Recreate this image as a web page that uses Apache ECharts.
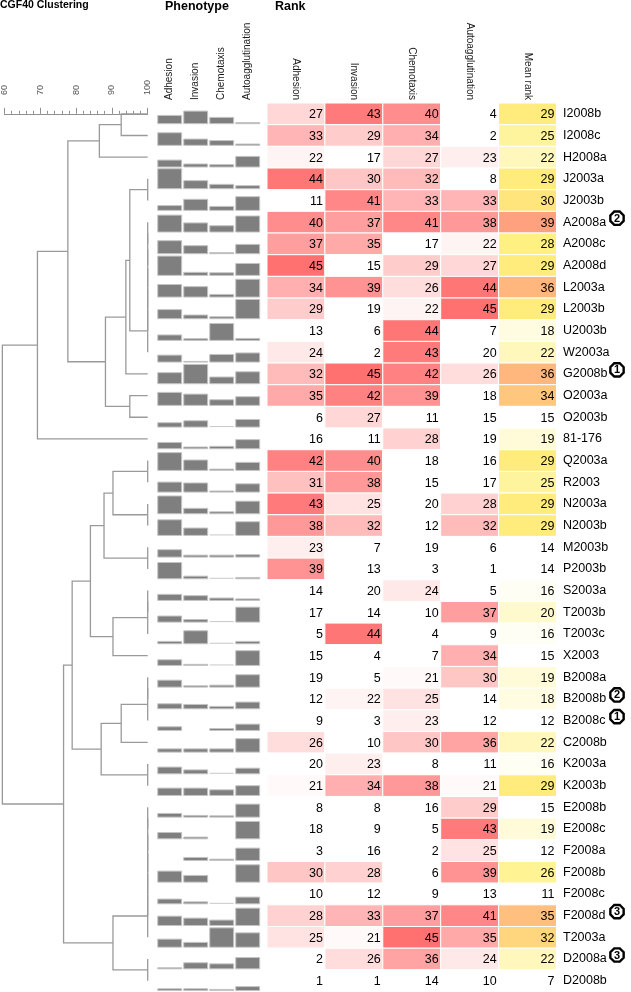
<!DOCTYPE html>
<html><head><meta charset="utf-8">
<script src="https://cdn.jsdelivr.net/npm/echarts/dist/echarts.min.js"></script>
<style>html,body{margin:0;padding:0;background:#fff}#c{width:631px;height:992px}</style>
</head><body><div id="c"></div>
<script>
const strains = ['I2008b','I2008c','H2008a','J2003a','J2003b','A2008a','A2008c','A2008d','L2003a','L2003b','U2003b','W2003a','G2008b','O2003a','O2003b','81-176','Q2003a','R2003','N2003a','N2003b','M2003b','P2003b','S2003a','T2003b','T2003c','X2003','B2008a','B2008b','B2008c','C2008b','K2003a','K2003b','E2008b','E2008c','F2008a','F2008b','F2008c','F2008d','T2003a','D2008a','D2008b'];
const phenoNames = ['Adhesion','Invasion','Chemotaxis','Autoagglutination'];
const rankNames = ['Adhesion','Invasion','Chemotaxis','Autoagglutination','Mean rank'];
const simTicks = [60, 70, 80, 90, 100];

// Phenotype bar heights (% of row height)
const adhesionPheno = [38,58,32,92,22,78,60,89,58,42,25,32,51,60,20,29,82,46,82,72,34,75,28,28,11,26,32,23,17,15,31,34,17,29,0,51,22,43,37,5,8];
const invasionPheno = [58,29,14,37,51,42,37,14,48,17,8,3,89,52,29,8,48,42,25,34,9,12,22,12,60,5,6,20,0,15,18,34,8,8,14,31,9,34,22,28,8];
const chemotaxisPheno = [29,22,11,20,18,29,5,12,12,9,78,35,31,26,1,11,6,5,9,1,9,1,11,1,1,1,9,11,9,15,1,26,6,0,6,0,1,25,89,23,5];
const autoaggPheno = [5,6,49,14,63,74,43,55,82,89,9,42,55,40,35,42,37,38,58,63,11,6,7,69,11,68,57,31,29,62,26,45,60,80,57,80,31,80,66,52,18];

// Ranks
const adhesionRank = [27,33,22,44,11,40,37,45,34,29,13,24,32,35,6,16,42,31,43,38,23,39,14,17,5,15,19,12,9,26,20,21,8,18,3,30,10,28,25,2,1];
const invasionRank = [43,29,17,30,41,37,35,15,39,19,6,2,45,42,27,11,40,38,25,32,7,13,20,14,44,4,5,22,3,10,23,34,8,9,16,28,12,33,21,26,1];
const chemotaxisRank = [40,34,27,32,33,41,17,29,26,22,44,43,42,39,11,28,18,15,20,12,19,3,24,10,4,7,21,25,23,30,8,38,16,5,2,6,9,37,45,36,14];
const autoaggRank = [4,2,23,8,33,38,22,27,44,45,7,20,26,18,15,19,16,17,28,32,6,1,5,37,9,34,30,14,12,36,11,21,29,43,25,39,13,41,35,24,10];
const meanRank = [29,25,22,29,30,39,28,29,36,29,18,22,36,34,15,19,29,25,29,29,14,14,16,20,16,15,19,18,12,22,16,29,15,19,12,26,11,35,32,22,7];

// CGF40 clustering linkage: [nodeA, nodeB, similarity %]; leaves 0..40, merges numbered from 41
const linkage = [
  [0,1,92.6],[41,2,86.5],[3,4,100],[5,6,100],[44,7,100],[45,8,100],[46,9,100],[47,10,100],[48,11,100],
  [43,49,95.0],[50,12,93.9],[13,14,95.0],[51,52,88.2],[42,53,77.7],[54,15,69.2],
  [16,17,100],[18,19,100],[56,57,90.3],[20,21,100],[58,59,87.8],[22,23,100],[61,24,100],[62,25,90.3],
  [60,63,84.0],[26,27,100],[65,28,100],[66,29,92.6],[30,31,100],[67,68,87.0],[64,69,78.9],
  [32,33,100],[71,34,100],[72,35,100],[73,36,100],[74,37,100],[75,38,100],[39,40,100],[76,77,90.3],
  [70,78,76.5],[55,79,59.4]
];
// Highlight badges: [row, number]
const badgeRows = [5,12,27,28,37,39];
const badgeNums = [2,1,2,1,3,3];

const FONT = '"Liberation Sans", Arial, Helvetica, sans-serif';
const N = strains.length;
const nodeY = [], nodeH = [];
for (let i = 0; i < N; i++) { nodeY[i] = i; nodeH[i] = 100; }
const dendroData = [];
linkage.forEach((m, k) => {
  const a = m[0], b = m[1], h = m[2];
  const id = N + k;
  nodeY[id] = (nodeY[a] + nodeY[b]) / 2;
  nodeH[id] = h;
  dendroData.push([h, nodeY[a], nodeY[b], nodeH[a], nodeH[b]]);
});

const phenoArrays = [adhesionPheno, invasionPheno, chemotaxisPheno, autoaggPheno];
const phenoData = [];
phenoArrays.forEach((arr, c) => arr.forEach((v, r) => phenoData.push([c, r, v])));
const rankArrays = [adhesionRank, invasionRank, chemotaxisRank, autoaggRank];
const rankData = [];
rankArrays.forEach((arr, c) => arr.forEach((v, r) => rankData.push([c, r, v])));
const meanData = meanRank.map((v, r) => [4, r, v]);
const badgeData = badgeRows.map((r, i) => [4, r, badgeNums[i]]);

const TOP = 103, H = 888.5;
const GRAY = '#8f8f8f';

function rankItem(params, api) {
  const col = api.value(0), row = api.value(1), v = api.value(2);
  const c = api.coord([col, row]);
  const s = api.size([1, 1]);
  const x = c[0] - s[0] / 2, y = c[1] - s[1] / 2;
  return { type: 'group', children: [
    { type: 'rect', shape: { x: x, y: y, width: s[0], height: s[1] },
      style: { fill: api.visual('color'), stroke: '#ffffff', lineWidth: 1 } },
    { type: 'text', style: { text: String(v), x: x + s[0] - 2, y: c[1] + 1, align: 'right', verticalAlign: 'middle',
      fontSize: 12.5, fontFamily: FONT, fill: '#000' } }
  ]};
}

const option = {
  animation: false,
  backgroundColor: '#fff',
  title: [
    { text: 'CGF40 Clustering', left: 0, top: 0, padding: 0, textStyle: { fontSize: 10.5, fontWeight: 'bold', fontFamily: FONT, color: '#000' } },
    { text: 'Phenotype', left: 165, top: 0, padding: 0, textStyle: { fontSize: 12.5, fontWeight: 'bold', fontFamily: FONT, color: '#000' } },
    { text: 'Rank', left: 275, top: 0, padding: 0, textStyle: { fontSize: 12.5, fontWeight: 'bold', fontFamily: FONT, color: '#000' } }
  ],
  grid: [
    { left: 4, top: TOP, width: 143.7, height: H },
    { left: 156.7, top: TOP, width: 104, height: H },
    { left: 267, top: TOP, width: 289.5, height: H }
  ],
  xAxis: [
    { type: 'value', gridIndex: 0, min: simTicks[0], max: simTicks[simTicks.length - 1], interval: 10, position: 'top',
      axisLine: { show: true, lineStyle: { color: GRAY, width: 1 } },
      axisTick: { show: true, length: 6, lineStyle: { color: GRAY } },
      minorTick: { show: true, splitNumber: 5, length: 3, lineStyle: { color: GRAY } },
      splitLine: { show: false },
      axisLabel: { rotate: 90, margin: 8, fontSize: 9, color: '#555', fontFamily: FONT } },
    { type: 'category', gridIndex: 1, data: phenoNames, position: 'top',
      axisLine: { show: false }, axisTick: { show: false },
      axisLabel: { rotate: 90, margin: 3, fontSize: 10, color: '#1a1a1a', fontFamily: FONT, interval: 0 } },
    { type: 'category', gridIndex: 2, data: rankNames, position: 'top',
      axisLine: { show: false }, axisTick: { show: false },
      axisLabel: { rotate: 90, margin: 3, fontSize: 10, color: '#1a1a1a', fontFamily: FONT, interval: 0 } }
  ],
  yAxis: [
    { type: 'value', gridIndex: 0, min: -0.5, max: N - 0.5, inverse: true, show: false },
    { type: 'value', gridIndex: 1, min: -0.5, max: N - 0.5, inverse: true, show: false },
    { type: 'category', gridIndex: 2, data: strains, inverse: true, position: 'right',
      axisLine: { show: false }, axisTick: { show: false }, splitLine: { show: false },
      axisLabel: { margin: 6.5, fontSize: 12.5, color: '#000', fontFamily: FONT, interval: 0 } }
  ],
  visualMap: [
    { type: 'continuous', show: false, seriesIndex: 2, dimension: 2, min: 20, max: 45,
      inRange: { color: ['#ffffff', '#ff7070'] } },
    { type: 'continuous', show: false, seriesIndex: 3, dimension: 2, min: 15, max: 42,
      inRange: { color: ['#ffffff', '#fff07c', '#ff8a80'] } }
  ],
  series: [
    { type: 'custom', xAxisIndex: 0, yAxisIndex: 0, clip: false, data: dendroData,
      renderItem: function (params, api) {
        const h = api.value(0), ya = api.value(1), yb = api.value(2), ha = api.value(3), hb = api.value(4);
        const pts = [api.coord([ha, ya]), api.coord([h, ya]), api.coord([h, yb]), api.coord([hb, yb])];
        return { type: 'polyline', shape: { points: pts }, style: { stroke: '#9a9a9a', lineWidth: 1.3, fill: null } };
      } },
    { type: 'custom', xAxisIndex: 1, yAxisIndex: 1, data: phenoData,
      renderItem: function (params, api) {
        const col = api.value(0), row = api.value(1), v = api.value(2);
        if (!v) return null;
        const c = api.coord([col, row]);
        const bw = api.size([1, 0])[0] * 0.92;
        const rh = api.size([0, 1])[1];
        const bottom = c[1] + rh / 2 - 1;
        if (v <= 1) {
          return { type: 'line', shape: { x1: c[0] - bw / 2, y1: bottom - 0.5, x2: c[0] + bw / 2, y2: bottom - 0.5 },
            style: { stroke: '#c8c8c8', lineWidth: 1 } };
        }
        const hp = v / 100 * rh;
        return { type: 'rect', shape: { x: c[0] - bw / 2, y: bottom - hp, width: bw, height: hp },
          style: { fill: '#7f7f7f', stroke: '#c4c4c4', lineWidth: 1 } };
      } },
    { type: 'custom', xAxisIndex: 2, yAxisIndex: 2, data: rankData, renderItem: rankItem },
    { type: 'custom', xAxisIndex: 2, yAxisIndex: 2, data: meanData, renderItem: rankItem },
    { type: 'custom', xAxisIndex: 2, yAxisIndex: 2, clip: false, data: badgeData,
      renderItem: function (params, api) {
        const c = api.coord([api.value(0), api.value(1)]);
        const s = api.size([1, 1]);
        const cx = c[0] + s[0] / 2 + 60.5, cy = c[1] - 4, r = 7.2;
        const pts = [];
        for (let i = 0; i < 8; i++) {
          const a = (22.5 + 45 * i) * Math.PI / 180;
          pts.push([cx + r * Math.cos(a), cy + r * Math.sin(a)]);
        }
        return { type: 'group', children: [
          { type: 'polygon', shape: { points: pts }, style: { fill: '#fff', stroke: '#000', lineWidth: 2.4 } },
          { type: 'text', style: { text: String(api.value(2)), x: cx, y: cy + 0.5, align: 'center', verticalAlign: 'middle',
            fontSize: 11, fontWeight: 'bold', fontFamily: FONT, fill: '#000' } }
        ]};
      } }
  ]
};
const chart = echarts.init(document.getElementById('c'));
chart.setOption(option);
</script>
</body></html>
